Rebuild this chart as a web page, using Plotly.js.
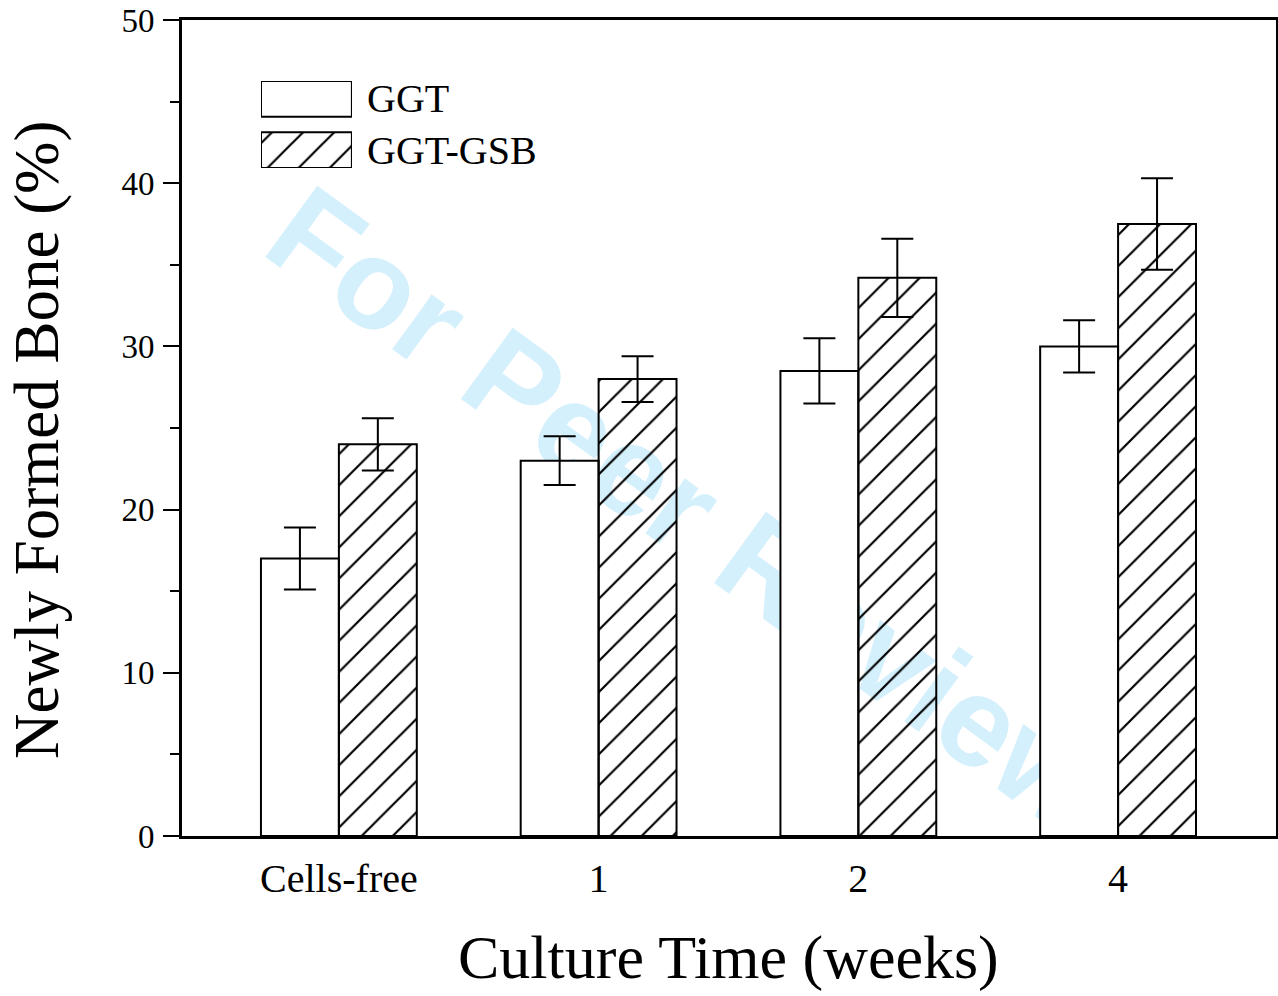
<!DOCTYPE html>
<html>
<head>
<meta charset="utf-8">
<script src="https://cdn.plot.ly/plotly-3.0.1.min.js"></script>
<style>html,body{margin:0;padding:0;background:#fff;}#chart{width:1278px;height:996px;}</style>
</head>
<body>
<div id="chart"></div>
<script>
const categories = ["Cells-free", "1", "2", "4"];
const ggtValues = [17, 23, 28.5, 30];
const ggtErrors = [1.9, 1.5, 2.0, 1.6];
const gsbValues = [24, 28, 34.2, 37.5];
const gsbErrors = [1.6, 1.4, 2.4, 2.8];
const seriesNames = ["GGT", "GGT-GSB"];
const yTicks = [0, 10, 20, 30, 40, 50];

const serif = "Liberation Serif, Times New Roman, serif";
const hatch = {shape: "/", fgcolor: "#000", bgcolor: "rgba(0,0,0,0)", size: 22, solidity: 0.1};

const traces = [
  {
    type: "bar", name: seriesNames[0], x: categories, y: ggtValues,
    marker: {color: "#ffffff", line: {color: "#000", width: 2}},
    error_y: {type: "data", array: ggtErrors, visible: true, color: "#000", thickness: 2, width: 16},
    showlegend: false, hoverinfo: "skip"
  },
  {
    type: "bar", name: seriesNames[1], x: categories, y: gsbValues,
    marker: {color: "rgba(0,0,0,0)", line: {color: "#000", width: 2}, pattern: hatch},
    error_y: {type: "data", array: gsbErrors, visible: true, color: "#000", thickness: 2, width: 16},
    showlegend: false, hoverinfo: "skip"
  },
  // custom legend swatches
  {
    type: "bar", orientation: "h", x: [1], y: [1], base: 0, width: 0.7, offset: -0.35,
    xaxis: "x2", yaxis: "y2", cliponaxis: false,
    marker: {color: "#ffffff", line: {color: "#000", width: 2}},
    showlegend: false, hoverinfo: "skip"
  },
  {
    type: "bar", orientation: "h", x: [1], y: [0], base: 0, width: 0.7, offset: -0.35,
    xaxis: "x2", yaxis: "y2", cliponaxis: false,
    marker: {color: "rgba(0,0,0,0)", line: {color: "#000", width: 2}, pattern: hatch},
    showlegend: false, hoverinfo: "skip"
  }
];

const layout = {
  width: 1278, height: 996,
  margin: {l: 182, r: 2, t: 20, b: 160},
  paper_bgcolor: "#fff", plot_bgcolor: "#fff",
  barmode: "group", bargap: 0.4, bargroupgap: 0,
  showlegend: false,
  font: {family: serif, color: "#000"},
  xaxis: {
    type: "category", range: [-0.604, 3.608],
    showline: true, linecolor: "#000", linewidth: 3, mirror: true,
    ticks: "", showgrid: false, zeroline: false,
    tickfont: {family: serif, size: 40, color: "#000"},
    ticklabelstandoff: 5
  },
  yaxis: {
    range: [0, 50], tickvals: yTicks,
    showline: true, linecolor: "#000", linewidth: 3, mirror: true,
    ticks: "outside", ticklen: 16, tickwidth: 2, tickcolor: "#000",
    minor: {dtick: 5, ticks: "outside", ticklen: 9, tickwidth: 2, tickcolor: "#000"},
    showgrid: false, zeroline: false,
    tickfont: {family: serif, size: 33, color: "#000"},
    ticklabelstandoff: 2
  },
  xaxis2: {domain: [0.0722, 0.1553], range: [0, 1], anchor: "y2", visible: false, fixedrange: true},
  yaxis2: {domain: [0.8186, 0.9252], range: [-0.35, 1.35], anchor: "x2", visible: false, fixedrange: true},
  shapes: [
    {
      type: "line", xref: "paper", yref: "paper", layer: "below",
      x0: 0.1730, y0: 0.7011, x1: 0.7640, y1: 0.1249,
      line: {color: "rgba(0,0,0,0)", width: 1},
      label: {
        text: "For Peer Review", textangle: 36, textposition: "middle",
        xanchor: "center", yanchor: "middle",
        font: {family: "Liberation Sans, Arial, sans-serif", size: 128, color: "rgb(212,240,252)", weight: "bold"}
      }
    }
  ],
  annotations: [
    {text: "GGT", xref: "paper", yref: "paper", x: 0.167, y: 0.9032, xanchor: "left", yanchor: "middle",
     showarrow: false, font: {family: serif, size: 40, color: "#000"}},
    {text: "GGT-GSB", xref: "paper", yref: "paper", x: 0.167, y: 0.8395, xanchor: "left", yanchor: "middle",
     showarrow: false, font: {family: serif, size: 40, color: "#000"}},
    {text: "Newly Formed Bone (%)", xref: "paper", yref: "paper", x: -0.1325, y: 0.4853,
     xanchor: "center", yanchor: "middle", textangle: -90, showarrow: false,
     font: {family: serif, size: 63, color: "#000"}},
    {text: "Culture Time (weeks)", xref: "paper", yref: "paper", x: 0.4995, y: -0.1495,
     xanchor: "center", yanchor: "middle", showarrow: false,
     font: {family: serif, size: 62, color: "#000"}}
  ]
};

Plotly.newPlot("chart", traces, layout, {displayModeBar: false, staticPlot: true});
</script>
</body>
</html>
